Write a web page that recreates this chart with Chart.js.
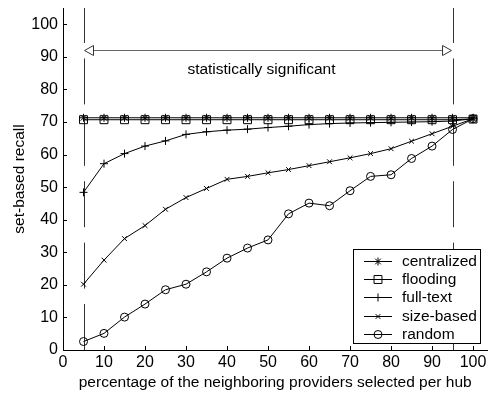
<!DOCTYPE html>
<html><head><meta charset="utf-8">
<script src="https://cdn.jsdelivr.net/npm/chart.js@4/dist/chart.umd.min.js"></script>
<style>html,body{margin:0;padding:0;background:#fff}#wrap{width:494px;height:397px}</style>
</head><body><div id="wrap"><canvas id="c" width="494" height="397"></canvas></div>
<script>
// ---- data ----
const xValues = [5,10,15,20,25,30,35,40,45,50,55,60,65,70,75,80,85,90,95,100];
const centralized = [71.3,71.3,71.3,71.3,71.3,71.3,71.3,71.3,71.3,71.3,71.3,71.3,71.3,71.3,71.3,71.3,71.3,71.3,71.3,71.3];
const flooding = [70.7,70.7,70.7,70.7,70.7,70.7,70.7,70.7,70.7,70.7,70.7,70.7,70.7,70.7,70.7,70.7,70.7,70.7,70.7,70.9];
const fullText = [48.4,57.2,60.3,62.6,64.2,66.2,67.0,67.5,67.8,68.3,68.7,69.2,69.5,69.7,69.8,69.9,70.0,70.1,70.3,71.0];
const sizeBased = [20.2,27.6,34.2,38.2,43.2,46.8,49.6,52.4,53.3,54.4,55.4,56.6,57.8,59.0,60.3,61.8,64.1,66.4,68.7,71.0];
const random = [2.6,5.1,10.1,14.1,18.5,20.2,24.0,28.2,31.3,33.8,41.8,45.1,44.3,48.9,53.3,53.8,58.8,62.6,67.7,71.0];
const seriesLabels = ['centralized','flooding','full-text','size-based','random'];
const xTicks = [0,10,20,30,40,50,60,70,80,90,100];
const yTicks = [0,10,20,30,40,50,60,70,80,90,100];
const sigBounds = [5,95];
const sigArrowY = 92;
const sigLabel = 'statistically significant';
const sigLabelPos = [48.4,86.2];
const xTitle = 'percentage of the neighboring providers selected per hub';
const yTitle = 'set-based recall';

const FONT = 'Liberation Sans, Arial, sans-serif';
Chart.defaults.font.family = FONT;
Chart.defaults.font.size = 15.5;
Chart.defaults.color = '#000';

const styles = [
  {pointStyle:'star', radius:4},
  {pointStyle:'rect', radius:5.6},
  {pointStyle:'cross', radius:4},
  {pointStyle:'crossRot', radius:3.4},
  {pointStyle:'circle', radius:4}
];
const seriesData = [centralized, flooding, fullText, sizeBased, random];

const datasets = seriesData.map((arr,i)=>({
  label: seriesLabels[i],
  data: arr.map((v,j)=>({x:xValues[j], y:v})),
  borderColor:'#000', borderWidth:1,
  backgroundColor:'rgba(0,0,0,0)',
  pointStyle: styles[i].pointStyle,
  pointRadius: styles[i].radius,
  pointBorderColor:'#000', pointBackgroundColor:'rgba(0,0,0,0)',
  pointBorderWidth:1, tension:0, fill:false
}));

function drawMarker(ctx, style, x, y, r){
  ctx.beginPath();
  if (style==='circle'){ ctx.arc(x,y,r,0,Math.PI*2); }
  else if (style==='rect'){ const s=Math.SQRT1_2*r; ctx.rect(x-s,y-s,2*s,2*s); }
  else if (style==='cross'){ ctx.moveTo(x-r,y); ctx.lineTo(x+r,y); ctx.moveTo(x,y-r); ctx.lineTo(x,y+r); }
  else if (style==='crossRot'){ const s=Math.SQRT1_2*r; ctx.moveTo(x-s,y-s); ctx.lineTo(x+s,y+s); ctx.moveTo(x-s,y+s); ctx.lineTo(x+s,y-s); }
  else if (style==='star'){ const s=Math.SQRT1_2*r; ctx.moveTo(x-r,y); ctx.lineTo(x+r,y); ctx.moveTo(x,y-r); ctx.lineTo(x,y+r);
    ctx.moveTo(x-s,y-s); ctx.lineTo(x+s,y+s); ctx.moveTo(x-s,y+s); ctx.lineTo(x+s,y-s); }
  ctx.stroke();
}

const annot = {
  id:'annot',
  beforeDatasetsDraw(chart){
    const {ctx, chartArea:a, scales:{x,y}} = chart;
    ctx.save();
    ctx.strokeStyle='#333'; ctx.lineWidth=1; ctx.setLineDash([46,15.4]);
    sigBounds.forEach(v=>{
      const px=Math.round(x.getPixelForValue(v))+0.5;
      ctx.beginPath(); ctx.moveTo(px,a.bottom); ctx.lineTo(px,a.top); ctx.stroke();
    });
    ctx.setLineDash([]);
    const py=Math.round(y.getPixelForValue(sigArrowY))+0.5;
    const x1=x.getPixelForValue(sigBounds[0])+1, x2=x.getPixelForValue(sigBounds[1])-1;
    ctx.strokeStyle='#666';
    ctx.beginPath(); ctx.moveTo(x1+9,py); ctx.lineTo(x2-9,py); ctx.stroke();
    ctx.strokeStyle='#333'; ctx.fillStyle='#fff';
    ctx.beginPath(); ctx.moveTo(x1,py); ctx.lineTo(x1+9,py-5); ctx.lineTo(x1+9,py+5); ctx.closePath(); ctx.fill(); ctx.stroke();
    ctx.beginPath(); ctx.moveTo(x2,py); ctx.lineTo(x2-9,py-5); ctx.lineTo(x2-9,py+5); ctx.closePath(); ctx.fill(); ctx.stroke();
    ctx.fillStyle='#000'; ctx.font='15.5px '+FONT; ctx.textAlign='center'; ctx.textBaseline='middle';
    ctx.fillText(sigLabel, x.getPixelForValue(sigLabelPos[0]), y.getPixelForValue(sigLabelPos[1]));
    ctx.restore();
  },
  afterDraw(chart){
    const {ctx, chartArea:a, scales:{x,y}} = chart;
    ctx.save();
    ctx.strokeStyle='#000'; ctx.lineWidth=1;
    ctx.beginPath();
    xTicks.forEach(v=>{ const px=Math.round(x.getPixelForValue(v))+0.5; ctx.moveTo(px,a.bottom); ctx.lineTo(px,a.bottom-4); });
    yTicks.forEach(v=>{ const py=Math.round(y.getPixelForValue(v))+0.5; ctx.moveTo(a.left,py); ctx.lineTo(a.left+4,py); });
    ctx.stroke();
    const lx=353.5, ly=249.5, lw=127, lh=94;
    ctx.fillStyle='#fff'; ctx.fillRect(lx,ly,lw,lh);
    ctx.strokeRect(lx,ly,lw,lh);
    ctx.font='15.5px '+FONT; ctx.textAlign='left'; ctx.textBaseline='middle'; ctx.fillStyle='#000';
    chart.data.datasets.forEach((ds,i)=>{
      const ry=Math.round(ly+11.5+i*18.2)+0.5;
      ctx.beginPath(); ctx.moveTo(364,ry); ctx.lineTo(392,ry); ctx.stroke();
      drawMarker(ctx, ds.pointStyle, 378, ry, ds.pointRadius);
      ctx.fillText(ds.label, 402, ry+0.5);
    });
    ctx.restore();
  }
};

new Chart(document.getElementById('c'), {
  type:'line',
  data:{datasets},
  options:{
    responsive:false, animation:false, devicePixelRatio:1,
    layout:{padding:{left:0,right:4,top:8,bottom:0}},
    plugins:{legend:{display:false}, tooltip:{enabled:false}},
    scales:{
      x:{type:'linear', min:0, max:103.5,
        afterBuildTicks(s){ s.ticks = xTicks.map(v=>({value:v})); },
        afterFit(s){ s.height=47; s.paddingLeft=0; s.paddingRight=0; },
        ticks:{padding:3.4, font:{size:16}, color:'#000', maxRotation:0, autoSkip:false},
        grid:{display:false, drawTicks:false},
        border:{display:true, color:'#000', width:1},
        title:{display:true, text:xTitle, font:{size:15.5}, color:'#000', padding:{top:0,bottom:5}}
      },
      y:{type:'linear', min:0, max:105,
        afterBuildTicks(s){ s.ticks = yTicks.map(v=>({value:v})); },
        afterFit(s){ s.width=63; s.paddingTop=0; s.paddingBottom=0; },
        ticks:{padding:5, font:{size:16}, color:'#000'},
        grid:{display:false, drawTicks:false},
        border:{display:true, color:'#000', width:1},
        title:{display:true, text:yTitle, font:{size:15.5}, color:'#000', padding:{top:10,bottom:0}}
      }
    }
  },
  plugins:[annot]
});
</script></body></html>
